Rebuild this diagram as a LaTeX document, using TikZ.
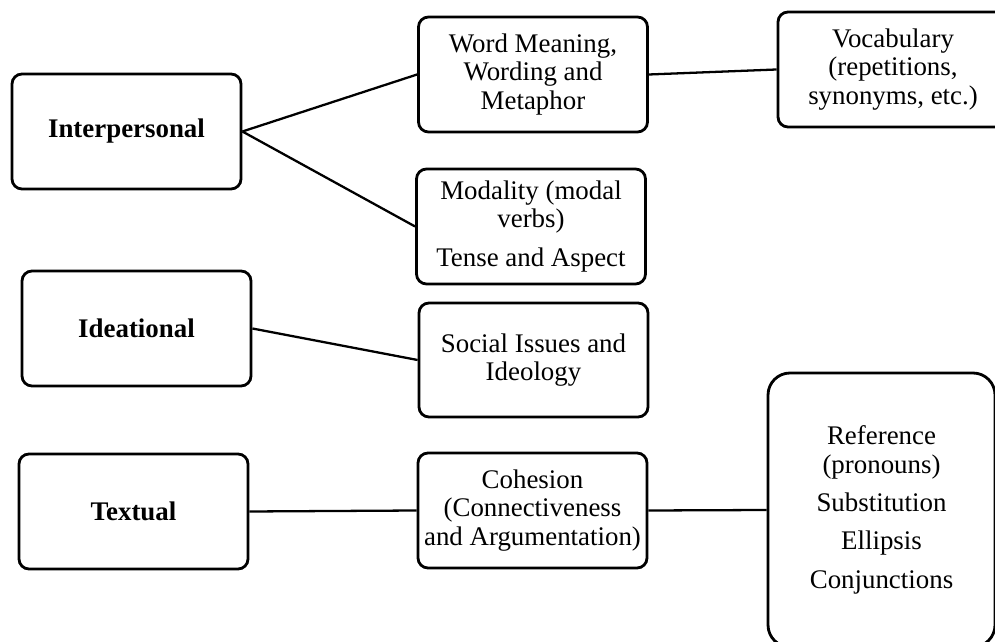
\documentclass[tikz,border=0pt]{standalone}
\usepackage{fontspec}
\setmainfont{Liberation Serif}
\usepackage{tikz}
\usetikzlibrary{positioning}
\tikzset{
    mybox/.style = {rectangle, rounded corners=0.2cm, line width=1.6pt, draw=black, align=center, inner sep=0pt, minimum width=4.58cm, minimum height=2.3cm, font=\fontsize{15.3}{16.1}\selectfont, text=black},
    myboxb/.style = {mybox, font=\fontsize{15.3}{16.1}\selectfont\bfseries},
    myboxl/.style = {mybox, rounded corners=0.44cm, minimum width=4.54cm, minimum height=5.48cm},
    edgen/.style = {-, line width=1.3pt, black},
}

\begin{document}
\begin{tikzpicture}
\useasboundingbox (0, 0) rectangle (19.9, 12.82);
\node[myboxb] at (2.53, 10.19) (ip) {Interpersonal};
\node[myboxb] at (2.73, 6.25) (id) {Ideational};
\node[myboxb] at (2.67, 2.59) (tx) {Textual};
\node[mybox] at (10.66, 11.33) (wm) {Word Meaning,\\Wording and\\Metaphor};
\node[mybox] at (10.62, 8.29) (md) {Modality (modal\\verbs)\\[5.7pt]Tense and Aspect};
\node[mybox, minimum height=2.28cm] at (10.67, 5.62) (si) {Social Issues and\\Ideology};
\node[mybox] at (10.65, 2.61) (co) {Cohesion\\(Connectiveness\\and Argumentation)};
\node[mybox, minimum width=4.6cm] at (17.86, 11.43) (vo) {Vocabulary\\(repetitions,\\synonyms, etc.)};
\node[myboxl] at (17.63, 2.62) (rf) {Reference\\(pronouns)\\[5.7pt]Substitution\\[5.7pt]Ellipsis\\[5.7pt]Conjunctions};
%
\draw[edgen] (ip.east) edge (wm.west);
\draw[edgen] (ip.east) edge (md.west);
\draw[edgen] (wm.east) edge (vo.west);
\draw[edgen] (id.east) edge (si.west);
\draw[edgen] (tx.east) edge (co.west);
\draw[edgen] (co.east) edge (rf.west);

\end{tikzpicture}
\end{document}
